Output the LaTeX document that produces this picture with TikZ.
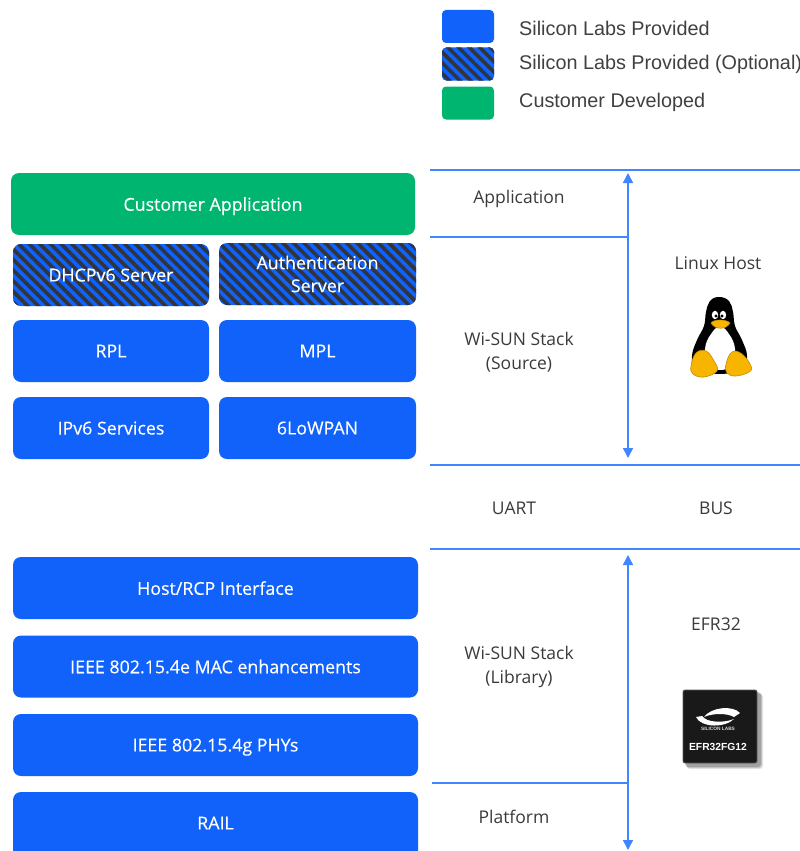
\documentclass[tikz,border=0pt]{standalone}
\usepackage{fontspec}
\setmainfont{Open Sans}
\newfontfamily\boxfont[FakeBold=0.35]{Open Sans}
\newfontfamily\legendfont{Liberation Sans}
\newfontfamily\chipfont{Liberation Sans}
\usetikzlibrary{patterns.meta,arrows.meta}

\definecolor{slblue}{HTML}{1062FB}
\definecolor{custgreen}{HTML}{00B56F}
\definecolor{hatchdark}{HTML}{30343C}
\definecolor{sepblue}{HTML}{3F86FF}
\definecolor{labelgray}{HTML}{3A3A3A}
\definecolor{legendgray}{HTML}{404040}
\definecolor{tuxyellow}{HTML}{F7B500}
\definecolor{tuxedge}{HTML}{C98A00}

\begin{document}
\begin{tikzpicture}[x=1pt,y=-1pt,
  layerbase/.style={rectangle, rounded corners=8pt, fill=slblue, text=white,
    font=\boxfont\fontsize{17.8}{23}\selectfont, minimum height=62pt, inner sep=0pt, align=center},
  layer/.style={layerbase, text depth=0pt},
  hatched/.style={preaction={fill=slblue},
    pattern={Lines[angle=-45,distance=7.5pt,line width=3.6pt]}, pattern color=hatchdark},
  optlayer/.style={layerbase, fill=none, hatched},
  custlayer/.style={layer, fill=custgreen},
  swatch/.style={rectangle, rounded corners=4pt, minimum width=52pt, minimum height=33pt, inner sep=0pt},
  legendtext/.style={anchor=west, inner sep=0pt, text depth=0pt, text=legendgray,
    font=\legendfont\fontsize{19.8}{22}\selectfont},
  tierlabel/.style={text=labelgray, inner sep=0pt, align=center, font=\fontsize{17.5}{24}\selectfont},
  oneline/.style={tierlabel, text depth=0pt},
  separator/.style={draw=sepblue, line width=1.5pt},
  span/.style={draw=sepblue, line width=1.5pt,
    {Triangle[length=10pt,width=10pt]}-{Triangle[length=10pt,width=10pt]}}
]
\useasboundingbox (0,0) rectangle (800,851);

% ---------- legend ----------
\node[swatch, fill=slblue] (legProv) at (468,26.5) {};
\node[swatch, hatched] (legOpt) at (468,64) {};
\node[swatch, fill=custgreen] (legCust) at (468,103) {};
\node[legendtext] (legProvT) at (519,28) {Silicon Labs Provided};
\node[legendtext] (legOptT) at (519,62) {Silicon Labs Provided (Optional)};
\node[legendtext] (legCustT) at (519,100) {Customer Developed};

% ---------- host-side stack ----------
\node[custlayer, minimum width=404pt] (app) at (213,204) {Customer Application};
\node[optlayer, text depth=0pt, minimum width=196pt] (dhcp) at (111,275) {DHCPv6 Server};
\node[optlayer, minimum width=197pt] (auth) at (317.5,274) {Authentication\\Server};
\node[layer, minimum width=196pt] (rpl) at (111,351) {RPL};
\node[layer, minimum width=197pt] (mpl) at (317.5,351) {MPL};
\node[layer, minimum width=196pt] (ipv6) at (111,428) {IPv6 Services};
\node[layer, minimum width=197pt] (lowpan) at (317.5,428) {6LoWPAN};

% ---------- radio co-processor stack ----------
\node[layer, minimum width=405pt] (rcpif) at (215.5,588) {Host/RCP Interface};
\node[layer, minimum width=405pt] (mac) at (215.5,666.5) {IEEE 802.15.4e MAC enhancements};
\node[layer, minimum width=405pt] (phy) at (215.5,745) {IEEE 802.15.4g PHYs};
\fill[slblue, rounded corners=8pt] (13,792) rectangle (418,872);
\node[layer, fill=none, minimum width=405pt] (rail) at (215.5,823) {RAIL};

% ---------- tier separators ----------
\draw[separator] (430,170) -- (800,170);
\draw[separator] (430,237) -- (628,237);
\draw[separator] (430,465) -- (800,465);
\draw[separator] (430,549) -- (800,549);
\draw[separator] (432,783) -- (628,783);

% ---------- extent arrows ----------
\coordinate (hostTop) at (628,173);
\coordinate (hostBot) at (628,458);
\coordinate (efrTop) at (628,555);
\coordinate (efrBot) at (628,850);
\draw[span] (hostTop) -- (hostBot);
\draw[span] (efrTop) -- (efrBot);

% ---------- tier labels ----------
\node[oneline] (lblApp) at (519,197) {Application};
\node[tierlabel] (lblSrc) at (519,352) {Wi-SUN Stack\\(Source)};
\node[oneline] (lblHost) at (718,263) {Linux Host};
\node[oneline] (lblUart) at (514,508) {UART};
\node[oneline] (lblBus) at (716,508) {BUS};
\node[oneline] (lblEfr) at (716,624) {EFR32};
\node[tierlabel] (lblLib) at (519,667) {Wi-SUN Stack\\(Library)};
\node[oneline] (lblPlat) at (514,817) {Platform};

% ---------- Tux ----------
\fill[black] plot[smooth cycle, tension=0.7] coordinates {
  (719,297) (729,301) (733,312) (735,326) (742,340) (747,356) (742,369)
  (719,374) (696,369) (692,356) (697,340) (704,326) (706,312) (710,301)};
\fill[white] plot[smooth cycle, tension=0.8] coordinates {
  (720,327) (729,334) (735,349) (732,364) (720,370) (708,364) (705,349) (711,334)};
\fill[white] (715,315) ellipse (3.2 and 4.2);
\fill[white] (723,315) ellipse (3.2 and 4.2);
\fill[black] (716,316) circle (1.6);
\fill[black] (722,316) circle (1.6);
\filldraw[fill=tuxyellow, draw=tuxedge, line width=0.6pt]
  (711,323) .. controls (714,319) and (726,319) .. (730,323)
  .. controls (726,330) and (715,330) .. cycle;
\filldraw[fill=tuxyellow, draw=tuxedge, line width=0.6pt] plot[smooth cycle, tension=0.7] coordinates {
  (691,366) (696,353) (706,351) (714,361) (717,371) (704,377) (693,374)};
\filldraw[fill=tuxyellow, draw=tuxedge, line width=0.6pt] plot[smooth cycle, tension=0.7] coordinates {
  (726,364) (732,352) (742,354) (751,366) (749,372) (736,376) (727,373)};

% ---------- EFR32 chip ----------
\foreach \g/\o in {4/0.10, 3/0.14, 2/0.18} {
  \fill[black, opacity=\o, rounded corners=3pt] (683+\g,690+\g) rectangle (757+\g+2,763+\g+2);
}
\filldraw[fill=black!90, draw=black!65, line width=0.8pt, rounded corners=2pt] (683,690) rectangle (757,763);
% Silicon Labs swoosh logo
\fill[white] (704,717) .. controls (711,707) and (733,705) .. (740,713)
  -- (734,717) .. controls (727,713) and (713,713) .. cycle;
\fill[white] (696,717) .. controls (701,728) and (725,728) .. (734,719)
  .. controls (724,723) and (707,723) .. (702,716) -- cycle;
\node[text=white!85!black, inner sep=0pt, font=\chipfont\bfseries\fontsize{4.8}{5}\selectfont] (chipBrand) at (718,729) {SILICON LABS};
\node[text=white, inner sep=0pt, font=\chipfont\bfseries\fontsize{10.3}{12}\selectfont] (chipPart) at (718,747) {EFR32FG12};
\end{tikzpicture}
\end{document}
